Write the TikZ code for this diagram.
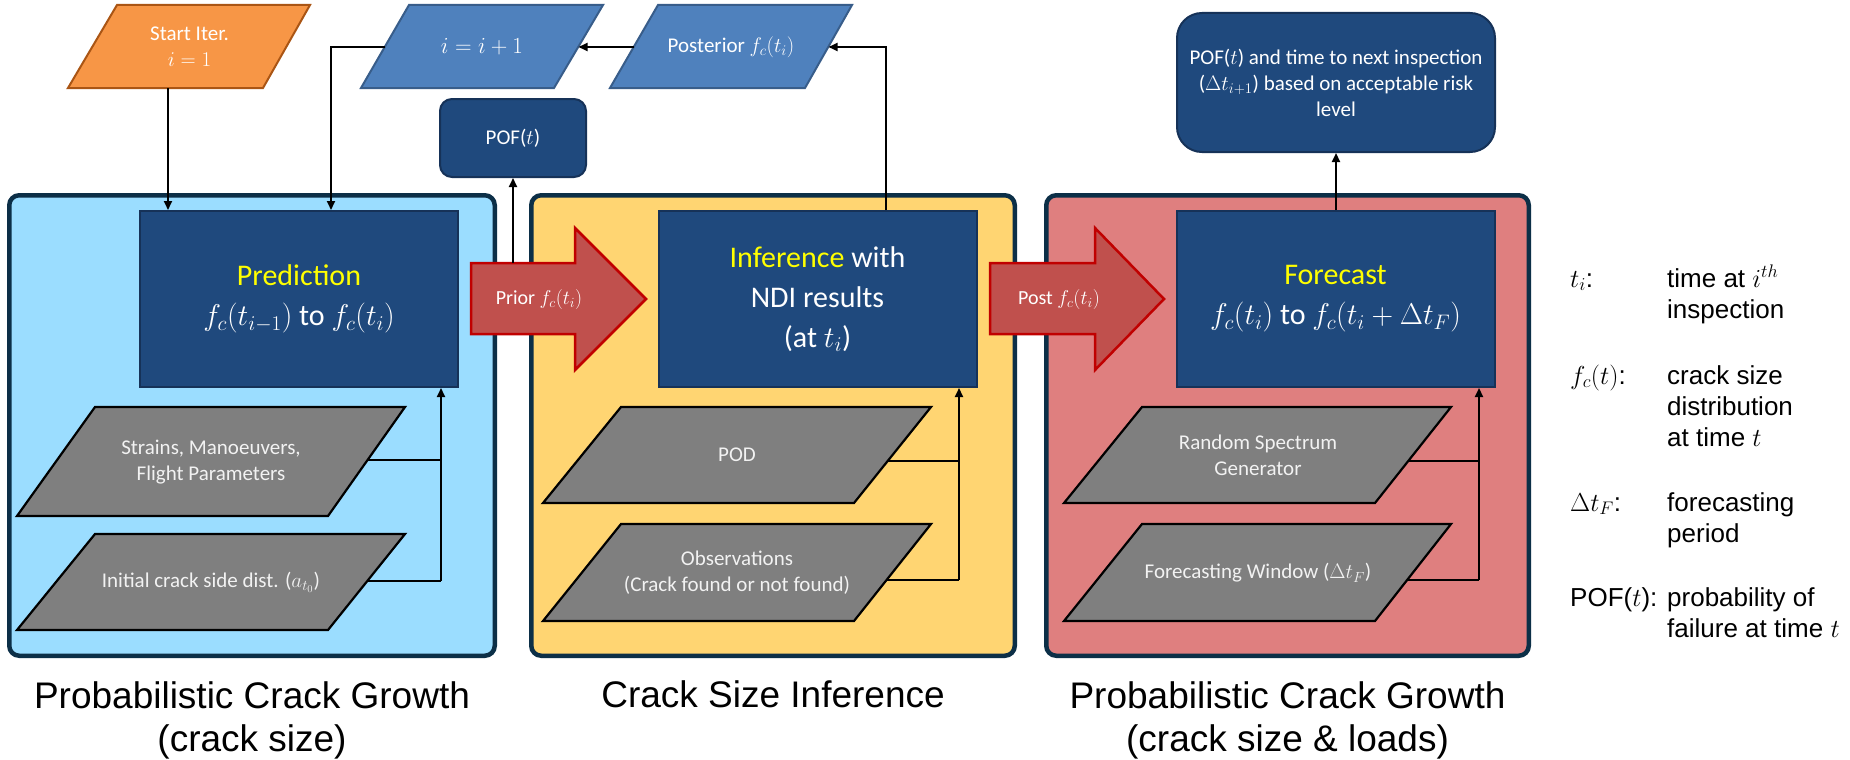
\RequirePackage{fix-cm}
\documentclass[tikz,border=0pt]{standalone}
\usepackage{fontspec}
\setmainfont{Carlito}
\newfontfamily\arialf{Liberation Sans}
\usetikzlibrary{arrows.meta}
\definecolor{panelblue}{RGB}{155,221,255}
\definecolor{panelyellow}{RGB}{255,213,114}
\definecolor{panelred}{RGB}{223,127,127}
\definecolor{panelborder}{RGB}{12,47,71}
\definecolor{navy}{RGB}{31,73,125}
\definecolor{navyborder}{RGB}{22,50,88}
\definecolor{lblue}{RGB}{79,129,189}
\definecolor{lblueborder}{RGB}{56,93,138}
\definecolor{orangef}{RGB}{247,150,70}
\definecolor{orangeb}{RGB}{170,85,20}
\definecolor{grayf}{RGB}{127,127,127}
\definecolor{arrowf}{RGB}{192,80,77}
\definecolor{arrowb}{RGB}{192,0,0}
\definecolor{ptext}{RGB}{242,242,242}
\definecolor{hiyellow}{RGB}{255,255,0}
\begin{document}
\begin{tikzpicture}[x=1pt,y=-1pt,
  panel/.style={draw=panelborder,line width=4.5pt,rounded corners=10pt,minimum height=460.5pt},
  navybox/.style={draw=navyborder,fill=navy,line width=2pt,text=white,align=center,inner sep=0pt,
    minimum width=318pt,minimum height=176pt,font=\fontsize{30}{40}\selectfont},
  navyround/.style={draw=navyborder,fill=navy,line width=2pt,text=white,align=center,inner sep=0pt,
    font=\fontsize{21}{26}\selectfont},
  orangepara/.style={draw=orangeb,fill=orangef,line width=2pt,line join=miter},
  bluepara/.style={draw=lblueborder,fill=lblue,line width=2pt},
  graypara/.style={draw=black,fill=grayf,line width=2.2pt},
  ptxt/.style={text=ptext,align=center,inner sep=0pt,font=\fontsize{21}{26}\selectfont},
  bigarrow/.style={draw=arrowb,fill=arrowf,line width=2.5pt},
  conn/.style={draw=black,line width=2pt,-{Triangle[length=9pt,width=8pt]}},
  plain/.style={draw=black,line width=2pt},
  leg/.style={anchor=base west,inner sep=0pt,font=\arialf\fontsize{26}{31}\selectfont},
  captxt/.style={align=center,inner sep=0pt,font=\arialf\fontsize{37}{43}\selectfont}
]
\useasboundingbox[fill=white] (0,0) rectangle (1850,760);

% panels
\node[panel,fill=panelblue,minimum width=485.5pt] (pA) at (252,425.5) {};
\node[panel,fill=panelyellow,minimum width=483.5pt] (pB) at (773,425.5) {};
\node[panel,fill=panelred,minimum width=482.5pt] (pC) at (1287.5,425.5) {};

% main boxes
\node[navybox] (pred) at (299,299) {\textcolor{hiyellow}{Prediction}\\$f_c(t_{i-1})$ to $f_c(t_i)$};
\node[navybox] (inf) at (817.5,299) {\textcolor{hiyellow}{Inference} with\\NDI results\\(at $t_i$)};
\node[navybox] (fore) at (1335.5,299) {\textcolor{hiyellow}{Forecast}\\$f_c(t_i)$ to $f_c(t_i+\Delta t_F)$};

% rounded output boxes
\node[navyround,rounded corners=12pt,minimum width=146pt,minimum height=78pt] (pof) at (513,138) {POF($t$)};
\node[navyround,rounded corners=25pt,minimum width=318pt,minimum height=139pt] (result) at (1336,82.5)
  {POF($t$) and time to next inspection\\($\Delta t_{i+1}$) based on acceptable risk\\level};

% top parallelograms
\draw[orangepara] (117,5) -- (310,5) -- (263,88) -- (68,88) -- cycle;
\node[ptxt,text=white] (start) at (189.5,47) {Start Iter.\\$i=1$};
\coordinate (startout) at (168,88);

\draw[bluepara] (409,5) -- (603,5) -- (554,88) -- (361,88) -- cycle;
\node[ptxt,text=white,font=\fontsize{23}{26}\selectfont] (incr) at (482,47) {$i=i+1$};
\coordinate (incrL) at (385,47);
\coordinate (incrR) at (578.5,47);

\draw[bluepara] (658,5) -- (852,5) -- (805,88) -- (610,88) -- cycle;
\node[ptxt,text=white] (posterior) at (731,47) {Posterior $f_c(t_i)$};
\coordinate (postL) at (634,47);
\coordinate (postR) at (828.5,47);

% big arrows
\draw[bigarrow] (471,263) -- (575,263) -- (575,228) -- (646,299) -- (575,370) -- (575,334) -- (471,334) -- cycle;
\node[ptxt,text=white,font=\fontsize{20}{24}\selectfont] (prior) at (539,299) {Prior $f_c(t_i)$};
\coordinate (priortop) at (513,263);

\draw[bigarrow] (990,263) -- (1095,263) -- (1095,228) -- (1164,299) -- (1095,370) -- (1095,334) -- (990,334) -- cycle;
\node[ptxt,text=white,font=\fontsize{20}{24}\selectfont] (postarrow) at (1059,299) {Post $f_c(t_i)$};

% gray input parallelograms
\draw[graypara] (95,407) -- (405,407) -- (328,516) -- (17,516) -- cycle;
\node[ptxt] (strains) at (211,462) {Strains, Manoeuvers,\\Flight Parameters};
\coordinate (strainsR) at (367,460);
\draw[graypara] (95,534) -- (405,534) -- (328,630) -- (17,630) -- cycle;
\node[ptxt] (initial) at (211,582) {Initial crack side dist. ($a_{t_0}$)};
\coordinate (initialR) at (367,581);

\draw[graypara] (621,407) -- (931,407) -- (854,503) -- (543,503) -- cycle;
\node[ptxt] (pod) at (737,455) {POD};
\coordinate (podR) at (888,461);
\draw[graypara] (621,524) -- (931,524) -- (854,621) -- (543,621) -- cycle;
\node[ptxt] (obs) at (737,573) {Observations\\(Crack found or not found)};
\coordinate (obsR) at (887,580);

\draw[graypara] (1142,407) -- (1451,407) -- (1375,503) -- (1064,503) -- cycle;
\node[ptxt] (rsg) at (1258,455) {Random Spectrum\\Generator};
\coordinate (rsgR) at (1408,461);
\draw[graypara] (1142,524) -- (1451,524) -- (1375,621) -- (1064,621) -- cycle;
\node[ptxt] (fw) at (1258,573) {Forecasting Window ($\Delta t_F$)};
\coordinate (fwR) at (1407,580);

% junctions
\coordinate (jA) at (441,581);
\coordinate (jB) at (959,580);
\coordinate (jC) at (1479,580);

% connectors
\draw[conn] (startout) -- (startout |- pred.north);
\coordinate (incrturn) at (331,47);
\draw[conn] (incrL) -- (incrturn) -- (incrturn |- pred.north);
\draw[conn] (postL) -- (incrR);
\coordinate (infturn) at (886,47);
\draw[conn] (infturn |- inf.north) -- (infturn) -- (postR);
\draw[conn] (priortop) -- (pof.south);
\draw[conn] (result.south |- fore.north) -- (result.south);

\draw[plain] (initialR) -- (jA);
\draw[conn] (jA) -- (jA |- pred.south);
\draw[plain] (strainsR) -- (strainsR -| jA);
\draw[plain] (obsR) -- (jB);
\draw[conn] (jB) -- (jB |- inf.south);
\draw[plain] (podR) -- (podR -| jB);
\draw[plain] (fwR) -- (jC);
\draw[conn] (jC) -- (jC |- fore.south);
\draw[plain] (rsgR) -- (rsgR -| jC);

% captions
\node[captxt] (capA) at (252,720) {Probabilistic Crack Growth\\(crack size)};
\node[captxt] (capB) at (773,694) {Crack Size Inference};
\node[captxt] (capC) at (1287.5,720) {Probabilistic Crack Growth\\(crack size \& loads)};

% legend
\node[leg] (k1) at (1570,287) {$t_i$:};
\node[leg] (d1a) at (1667,287) {time at $i^{th}$};
\node[leg] (d1b) at (1667,318) {inspection};
\node[leg] (k2) at (1570,384) {$f_c(t)$:};
\node[leg] (d2a) at (1667,384) {crack size};
\node[leg] (d2b) at (1667,415) {distribution};
\node[leg] (d2c) at (1667,446) {at time $t$};
\node[leg] (k3) at (1570,511) {$\Delta t_F$:};
\node[leg] (d3a) at (1667,511) {forecasting};
\node[leg] (d3b) at (1667,542) {period};
\node[leg] (k4) at (1570,606) {POF($t$):};
\node[leg] (d4a) at (1667,606) {probability of};
\node[leg] (d4b) at (1667,637) {failure at time $t$};
\end{tikzpicture}
\end{document}
